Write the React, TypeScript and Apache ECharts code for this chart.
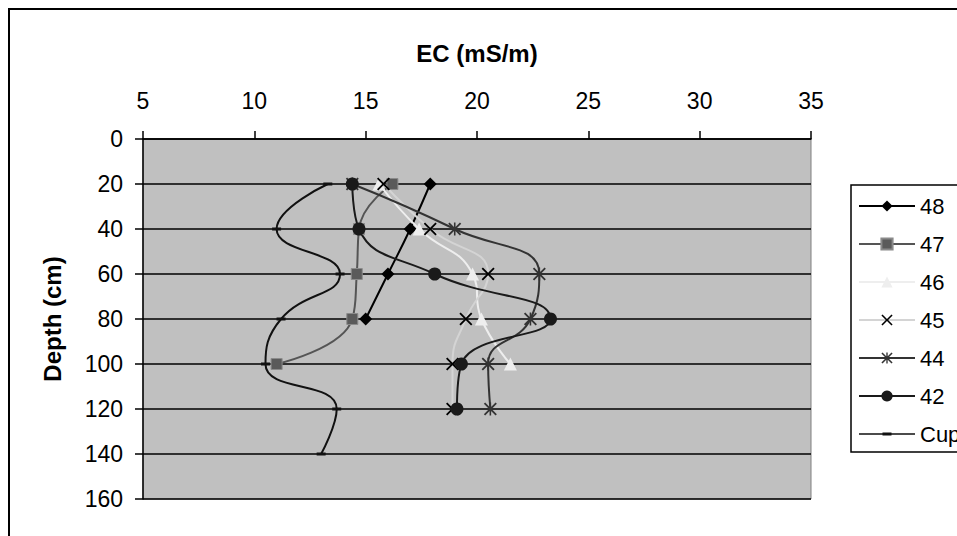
import React, { useEffect, useRef } from "react";
import * as echarts from "echarts";

const depths = [20, 40, 60, 80, 100, 120, 140];
const s48 = [17.9, 17.0, 16.0, 15.0];
const s47 = [16.2, 14.7, 14.6, 14.4, 11.0];
const s46 = [15.6, 17.4, 19.8, 20.2, 21.5];
const s45 = [15.8, 17.9, 20.5, 19.5, 18.9, 18.9];
const s44 = [14.4, 19.0, 22.8, 22.4, 20.5, 20.6];
const s42 = [14.4, 14.7, 18.1, 23.3, 19.3, 19.1];
const cup = [13.3, 11.0, 13.85, 11.2, 10.5, 13.7, 13.0];
const seriesNames = ["48", "47", "46", "45", "44", "42", "Cup"];
const xTitle = "EC (mS/m)";
const yTitle = "Depth (cm)";

const FONT = "'Liberation Sans', Arial, sans-serif";
const X_PATH =
  "path://M0,1L1,0L5,4L9,0L10,1L6,5L10,9L9,10L5,6L1,10L0,9L4,5Z";
const STAR_PATH =
  "path://M0,1L1,0L5,4L9,0L10,1L6,5L10,9L9,10L5,6L1,10L0,9L4,5Z M4.4,0L5.6,0L5.6,10L4.4,10Z";
const CUP_LEGEND_ICON =
  "path://M0,0.75L56,0.75L56,2.25L0,2.25Z M23.5,0L32.5,0L32.5,3L23.5,3Z";

function pairs(vals: number[]) {
  return vals.map((v, i) => [v, depths[i]]);
}

export default function App() {
  const ref = useRef<HTMLDivElement>(null);
  useEffect(() => {
    if (!ref.current) return;
    const chart = echarts.init(ref.current, undefined, { renderer: "svg" });
    const mk = (
      name: string,
      vals: number[],
      lineColor: string,
      symbol: string,
      symbolSize: any,
      symColor: string,
      borderColor?: string
    ) => ({
      name,
      type: "line",
      smooth: 0.5,
      data: pairs(vals),
      symbol,
      symbolSize,
      showSymbol: true,
      lineStyle: { color: lineColor, width: 2 },
      itemStyle: {
        color: symColor,
        borderColor: borderColor || symColor,
        borderWidth: borderColor ? 1 : 0,
      },
      emphasis: { disabled: true },
      z: 3,
    });
    chart.setOption({
      animation: false,
      backgroundColor: "#ffffff",
      textStyle: { fontFamily: FONT, color: "#000" },
      grid: {
        left: 143,
        top: 139,
        right: 146,
        bottom: 37,
        show: true,
        backgroundColor: "#c0c0c0",
        borderColor: "#808080",
        borderWidth: 1,
      },
      xAxis: {
        type: "value",
        position: "top",
        min: 5,
        max: 35,
        interval: 5,
        name: xTitle,
        nameLocation: "middle",
        nameGap: 74,
        nameTextStyle: { fontSize: 24, fontWeight: "bold", color: "#000", fontFamily: FONT },
        axisLine: { show: true, lineStyle: { color: "#000", width: 1.5 } },
        axisTick: { show: true, inside: false, length: 8, lineStyle: { color: "#000", width: 1.5 } },
        axisLabel: { fontSize: 23, color: "#000", margin: 27, fontFamily: FONT },
        splitLine: { show: false },
      },
      yAxis: {
        type: "value",
        inverse: true,
        min: 0,
        max: 160,
        interval: 20,
        name: yTitle,
        nameLocation: "middle",
        nameRotate: 90,
        nameGap: 79,
        nameTextStyle: { fontSize: 24, fontWeight: "bold", color: "#000", fontFamily: FONT },
        axisLine: { show: true, lineStyle: { color: "#000", width: 1.5 } },
        axisTick: { show: true, inside: false, length: 8, lineStyle: { color: "#000", width: 1.5 } },
        axisLabel: { fontSize: 23, color: "#000", margin: 20, fontFamily: FONT },
        splitLine: { show: true, lineStyle: { color: "#000", width: 1.5 } },
      },
      legend: {
        data: seriesNames.map((n) =>
          n === "Cup" ? { name: n, icon: CUP_LEGEND_ICON } : { name: n }
        ),
        orient: "vertical",
        left: 851,
        top: 185,
        backgroundColor: "#ffffff",
        borderColor: "#000",
        borderWidth: 1.5,
        borderRadius: 0,
        padding: [10, 12, 7, 7],
        itemWidth: 56,
        itemHeight: 14,
        itemGap: 16,
        textStyle: { fontSize: 22, color: "#000", fontFamily: FONT, lineHeight: 22 },
        selectedMode: false,
      },
      graphic: [
        {
          type: "rect",
          shape: { x: 9, y: 9, width: 1100, height: 700 },
          style: { fill: "none", stroke: "#000", lineWidth: 2 },
          silent: true,
          z: 100,
        },
      ],
      series: [
        mk("48", s48, "#000000", "diamond", 13, "#000000"),
        mk("47", s47, "#555555", "rect", 11, "#5a5a5a", "#8a8a8a"),
        mk("46", s46, "#eeeeee", "triangle", 13, "#eeeeee"),
        mk("45", s45, "#d4d4d4", X_PATH, 13, "#000000"),
        mk("44", s44, "#333333", STAR_PATH, 13, "#333333"),
        mk("42", s42, "#1a1a1a", "circle", 13, "#1a1a1a"),
        mk("Cup", cup, "#111111", "rect", [9, 3], "#111111"),
      ],
    });
    return () => chart.dispose();
  }, []);
  return (
    <div
      ref={ref}
      style={{ position: "fixed", left: 0, top: 0, width: 957, height: 536 }}
    />
  );
}
